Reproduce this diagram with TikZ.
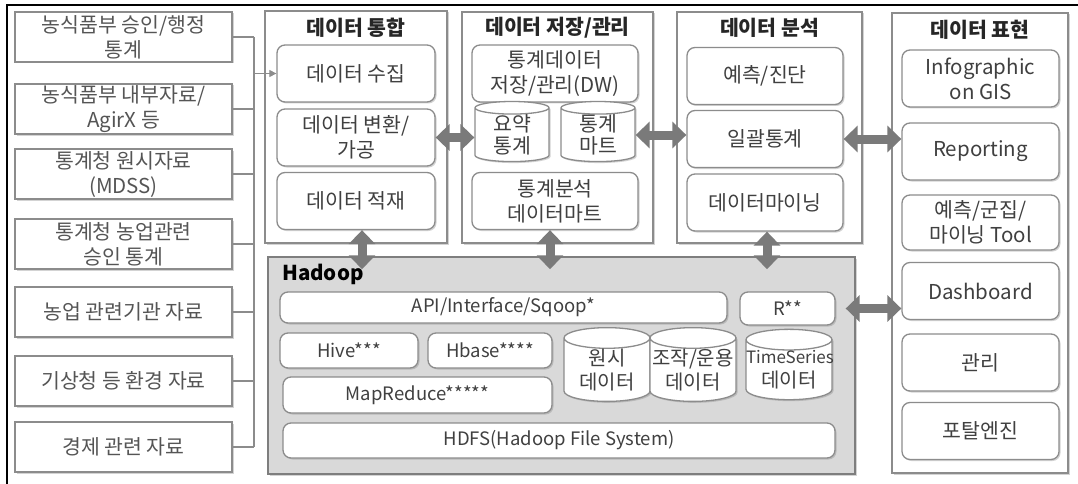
\documentclass[tikz,border=0pt]{standalone}
\usepackage{fontspec}
\usepackage{tikz}
\usetikzlibrary{positioning, calc, shapes.geometric, shadows, arrows.meta}
\newfontfamily\kr{Noto Sans CJK KR}
\definecolor{boxgray}{HTML}{8C8C8C}
\definecolor{textgray}{HTML}{404040}
\definecolor{srcgray}{HTML}{555555}
\definecolor{arrowgray}{HTML}{7A7A7A}
\definecolor{hadoopfill}{HTML}{D9D9D9}
\tikzset{
	x=1pt, y=-1pt, % one unit is one pixel of the sketch, y grows downwards
	every node/.style={font=\kr\fontsize{20.5}{25}\selectfont, text=textgray, align=center, inner sep=0pt},
	boxshadow/.style={drop shadow={shadow xshift=1.5pt, shadow yshift=-1.5pt, opacity=0.35}}, % soft shadow at the lower right
	source/.style={draw=boxgray, line width=1.3pt, fill=white, text=srcgray, minimum width=217pt, minimum height=50pt, boxshadow}, % the data sources on the left
	stage/.style={draw=boxgray, line width=1.3pt, fill=white, boxshadow}, % the big column boxes
	coltitle/.style={font=\kr\bfseries\fontsize{20.5}{25}\selectfont, text=black!85},
	part/.style={draw=boxgray, line width=1.3pt, fill=white, rounded corners=8pt, minimum height=57pt, boxshadow},
	store/.style={cylinder, shape border rotate=90, aspect=0.24, draw=boxgray, line width=1.3pt, fill=white, boxshadow}, % databases
	smallstore/.style={store, aspect=0.17, text width=74pt, minimum height=56pt, font=\kr\fontsize{20.5}{22}\selectfont},
	platform/.style={draw=boxgray!90!black, line width=1.5pt, fill=hadoopfill, boxshadow},
	tool/.style={part, minimum height=33pt, font=\kr\fontsize{18.5}{22}\selectfont},
	bus/.style={draw=boxgray, line width=1.2pt},
	bigarrow/.style={draw=arrowgray, line width=9pt, {Triangle[width=26pt,length=14pt]}-{Triangle[width=26pt,length=14pt]}}, % the thick two-way arrows
}
\begin{document}
\begin{tikzpicture}
	\useasboundingbox (0,0) rectangle (1078,484);
	\draw[line width=2.5pt] (7,484) -- (7,5) -- (1078,5);

	% data sources
	\node[source] (s1) at (123.5,37) {농식품부 승인/행정\\통계};
	\node[source] (s2) at (123.5,109) {농식품부 내부자료/\\AgirX 등};
	\node[source] (s3) at (123.5,174) {통계청 원시자료\\(MDSS)};
	\node[source] (s4) at (123.5,244) {통계청 농업관련\\승인 통계};
	\node[source] (s5) at (123.5,312) {농업 관련기관 자료};
	\node[source] (s6) at (123.5,381) {기상청 등 환경 자료};
	\node[source] (s7) at (123.5,447) {경제 관련 자료};

	% columns
	\node[stage, minimum width=182pt, minimum height=232pt] (integ) at (356,127) {};
	\node[coltitle] at ($(integ.north)+(0,17)$) {데이터 통합};
	\node[stage, minimum width=191pt, minimum height=231pt] (keep) at (557.5,127.5) {};
	\node[coltitle] at ($(keep.north)+(0,16)$) {데이터 저장/관리};
	\node[stage, minimum width=185pt, minimum height=231pt] (anal) at (769.5,127.5) {};
	\node[coltitle] at ($(anal.north)+(0,16)$) {데이터 분석};
	\node[stage, minimum width=176pt, minimum height=460pt] (show) at (980,243) {};
	\node[coltitle] at ($(show.north)+(0,17)$) {데이터 표현};

	\node[part, minimum width=158pt] (c1a) at (356,73.5) {데이터 수집};
	\node[part, minimum width=158pt] (c1b) at (356,137.5) {데이터 변환/\\가공};
	\node[part, minimum width=158pt] (c1c) at (356,201) {데이터 적재};

	\node[part, minimum width=166pt] (c2a) at (555,73.5) {통계데이터\\저장/관리(DW)};
	\node[smallstore] (st1) at (512,135) {요약\\통계};
	\node[smallstore] (st2) at (598,135) {통계\\마트};
	\node[part, minimum width=166pt] (c2d) at (555,201) {통계분석\\데이터마트};

	\node[part, minimum width=156pt] (c3a) at (765,76) {예측/진단};
	\node[part, minimum width=156pt] (c3b) at (765,139) {일괄통계};
	\node[part, minimum width=156pt] (c3c) at (765,202.5) {데이터마이닝};

	\node[part, minimum width=157pt] (c4a) at (980.5,78.5) {Infographic\\on GIS};
	\node[part, minimum width=157pt] (c4b) at (980.5,151.5) {Reporting};
	\node[part, minimum width=157pt, minimum height=55pt] (c4c) at (980.5,222.5) {예측/군집/\\마이닝 Tool};
	\node[part, minimum width=157pt] (c4d) at (980.5,291) {Dashboard};
	\node[part, minimum width=157pt] (c4e) at (980.5,362.5) {관리};
	\node[part, minimum width=157pt] (c4f) at (980.5,431) {포탈엔진};

	% hadoop layer
	\node[platform, minimum width=587pt, minimum height=217pt] (hadoop) at (561.5,365.5) {};
	\node[coltitle, anchor=west, text=black] at (282,274) {Hadoop};
	\node[tool, minimum width=447pt, minimum height=31pt] (api) at (503.5,307.5) {API/Interface/Sqoop*};
	\node[tool, minimum width=95pt] (rr) at (787.5,308.5) {R**};
	\node[tool, minimum width=138pt, minimum height=35pt] (hive) at (349,350.5) {Hive***};
	\node[tool, minimum width=124pt, minimum height=35pt] (hbase) at (490,350.5) {Hbase****};
	\node[tool, minimum width=269pt, minimum height=36pt] (mapred) at (417.5,395) {MapReduce*****};
	\node[tool, minimum width=552pt, minimum height=35pt] (hdfs) at (559,440.5) {HDFS(Hadoop File System)};
	\node[store, text width=86pt, minimum height=66pt, font=\kr\fontsize{20}{24}\selectfont] (raw) at (607,370) {원시\\데이터};
	\node[store, text width=86pt, minimum height=66pt, font=\kr\fontsize{20}{24}\selectfont] (ops) at (693,370) {조작/운용\\데이터};
	\node[store, text width=86pt, minimum height=66pt, font=\kr\fontsize{20}{24}\selectfont] (ts) at (789,370) {{\fontsize{17}{24}\selectfont TimeSeries}\\데이터};

	% sources to the integration column
	\coordinate (bustop) at (254,37);
	\coordinate (busbot) at (254,447);
	\foreach \s in {s1,s2,s3,s4,s5,s6,s7}
		\draw[bus] (\s.east) -- (\s.east -| bustop);
	\draw[bus] (bustop) -- (busbot);
	\draw[bus, -{Triangle[width=7pt,length=7pt]}] (c1a.west -| bustop) -- (c1a.west);

	% two-way arrows
	\draw[bigarrow] (c1b.east) -- (c1b.east -| st1.west);
	\draw[bigarrow] (st2.east) -- (st2.east -| c3b.west);
	\draw[bigarrow] (c3b.east) -- (c3b.east -| c4b.west);
	\draw[bigarrow] ($(c1c.south)+(6,0)$) -- ($(c1c.south |- hadoop.north)+(6,13)$);
	\draw[bigarrow] ($(c2d.south)+(-5,0)$) -- ($(c2d.south |- hadoop.north)+(-5,13)$);
	\draw[bigarrow] ($(c3c.south)+(2,0)$) -- ($(c3c.south |- hadoop.north)+(2,13)$);
	\draw[bigarrow] ($(rr.east)+(10,0)$) -- (rr.east -| c4d.west);
\end{tikzpicture}
\end{document}
